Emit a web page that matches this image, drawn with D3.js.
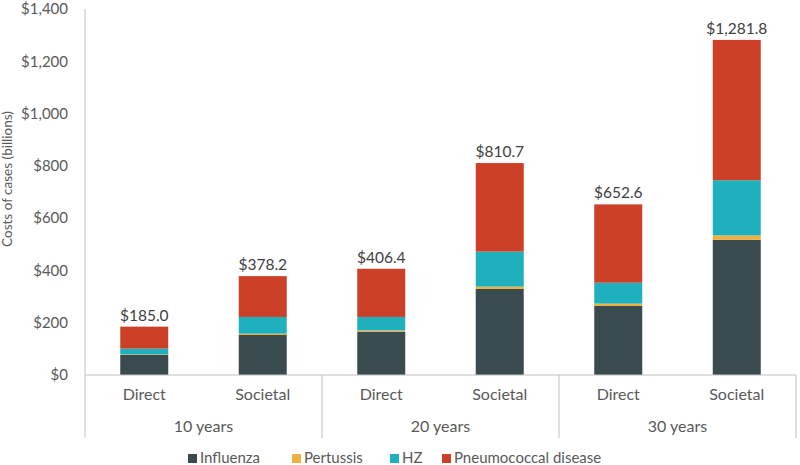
<!DOCTYPE html>
<html><head><meta charset="utf-8">
<script src="https://cdn.jsdelivr.net/npm/d3@7"></script>
<style>body{margin:0;background:#fff;}svg{display:block;font-family:Lato,"Open Sans",sans-serif;}</style>
</head><body>
<svg id="c" width="800" height="465"></svg>
<script>
const groups = ["10 years","20 years","30 years"];
const perspectives = ["Direct","Societal"];
const seriesNames = ["Influenza","Pertussis","HZ","Pneumococcal disease"];
const influenza = [77,153,166,329,264,517];
const pertussis = [2,5,5,9,9,17];
const hz = [22,64,51,134,80,211];
const pneumococcal = [84,156.2,184.4,338.7,299.6,536.8];
const totals = ["$185.0","$378.2","$406.4","$810.7","$652.6","$1,281.8"];
const yTicks = [0,200,400,600,800,1000,1200,1400];
const colors = ["#394b4f","#eeb040","#1eb0bc","#cc4028"];

const svg = d3.select("#c");
const x0 = 85, x1 = 796, yZero = 375, yTop = 9;
const bars = [];
groups.forEach((g,gi)=>perspectives.forEach((p,pi)=>bars.push({key:g+"|"+p,g,p,i:gi*2+pi})));
const x = d3.scaleBand().domain(bars.map(b=>b.key)).range([x0,x1]).paddingInner(0.595).paddingOuter(0.2975);
const y = d3.scaleLinear().domain([0,1400]).range([yZero,yTop]);
const gx = d3.scaleBand().domain(groups).range([x0,x1]);

const data = bars.map((b,i)=>({key:b.key,Influenza:influenza[i],Pertussis:pertussis[i],HZ:hz[i],"Pneumococcal disease":pneumococcal[i]}));
const stack = d3.stack().keys(seriesNames)(data);

// y axis
const yAxis = d3.axisLeft(y).tickValues(yTicks).tickSize(0).tickPadding(17)
  .tickFormat(d=>"$"+d3.format(",")(d));
const ya = svg.append("g").attr("transform",`translate(${x0},0)`).call(yAxis);
ya.select(".domain").remove();
ya.selectAll("text").attr("fill","#595959").style("font-size","15px").style("font-family","Lato,sans-serif");

// axis line
svg.append("line").attr("x1",x0).attr("x2",x0).attr("y1",yTop).attr("y2",438).attr("stroke","#bfbfbf").attr("stroke-width",1);

// bars
svg.append("g").selectAll("g").data(stack).join("g").attr("fill",(d,i)=>colors[i])
 .selectAll("rect").data(d=>d).join("rect")
 .attr("x",d=>x(d.data.key)).attr("width",x.bandwidth())
 .attr("y",d=>y(d[1])).attr("height",d=>y(d[0])-y(d[1]));

// zero line
svg.append("line").attr("x1",x0).attr("x2",x1).attr("y1",yZero).attr("y2",yZero).attr("stroke","#bfbfbf");
// group separators
groups.forEach(g=>{
  const gxr = gx(g)+gx.bandwidth();
  svg.append("line").attr("x1",gxr).attr("x2",gxr).attr("y1",yZero).attr("y2",438).attr("stroke","#bfbfbf");
});

// bottom axis labels via d3 axis
const xa = svg.append("g").attr("transform",`translate(0,${yZero})`)
  .call(d3.axisBottom(x).tickSize(0).tickPadding(14).tickFormat(k=>k.split("|")[1]));
xa.select(".domain").remove();
xa.selectAll("text").attr("fill","#595959").style("font-size","16px").style("font-family","Lato,sans-serif");
const ga = svg.append("g").attr("transform",`translate(0,${yZero})`)
  .call(d3.axisBottom(gx).tickSize(0).tickPadding(46));
ga.select(".domain").remove();
ga.selectAll("text").attr("fill","#595959").style("font-size","16px").style("font-family","Lato,sans-serif");

// totals
svg.append("g").selectAll("text").data(data).join("text")
 .attr("x",d=>x(d.key)+x.bandwidth()/2)
 .attr("y",(d,i)=>y(influenza[i]+pertussis[i]+hz[i]+pneumococcal[i])-6)
 .attr("text-anchor","middle").attr("fill","#404040").style("font-size","15.5px")
 .text((d,i)=>totals[i]);

// y title
svg.append("text").attr("transform","translate(12,179) rotate(-90)").attr("text-anchor","middle")
 .attr("fill","#595959").style("font-size","13.5px").text("Costs of cases (billions)");

// legend
const legX = [188,292,390,442];
const leg = svg.append("g");
seriesNames.forEach((s,i)=>{
  leg.append("rect").attr("x",legX[i]).attr("y",454).attr("width",9).attr("height",9).attr("fill",colors[i]);
  leg.append("text").attr("x",legX[i]+12).attr("y",462.5).attr("fill","#595959").style("font-size","15px").text(s);
});
</script>
</body></html>
